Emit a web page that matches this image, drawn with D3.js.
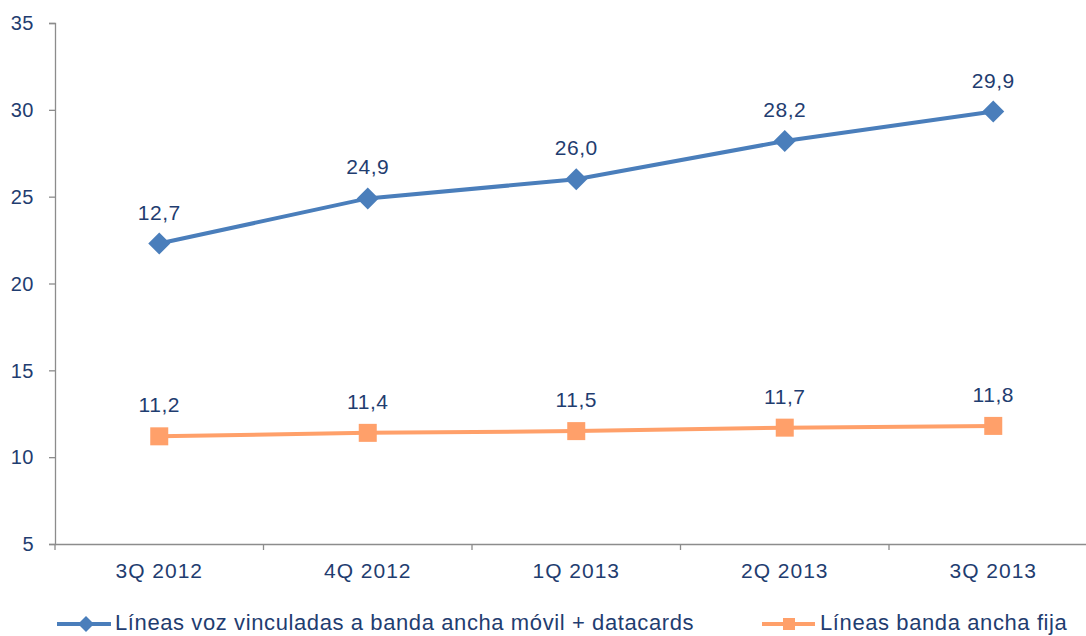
<!DOCTYPE html>
<html>
<head>
<meta charset="utf-8">
<script src="https://cdn.jsdelivr.net/npm/d3@7"></script>
<style>
  body { margin: 0; background: #fff; overflow: hidden; }
  text { font-family: "Liberation Sans", Arial, sans-serif; fill: #1f3d70; }
</style>
</head>
<body>
<script>
// chart data
const categories = ['3Q 2012', '4Q 2012', '1Q 2013', '2Q 2013', '3Q 2013'];
const mobileValues = [22.3, 24.9, 26.0, 28.2, 29.9];
const mobileLabels = ['12,7', '24,9', '26,0', '28,2', '29,9'];
const fixedValues = [11.2, 11.4, 11.5, 11.7, 11.8];
const fixedLabels = ['11,2', '11,4', '11,5', '11,7', '11,8'];
const yTicks = [5, 10, 15, 20, 25, 30, 35];
const seriesNames = ['Líneas voz vinculadas a banda ancha móvil + datacards', 'Líneas banda ancha fija'];

const width = 1086, height = 636;
const margin = {top: 23, right: 0, bottom: 92, left: 55};

const svg = d3.select('body').append('svg')
    .attr('width', width)
    .attr('height', height);

const xScale = d3.scaleBand()
    .domain(categories)
    .range([margin.left, margin.left + 5 * 208.5]);

const yScale = d3.scaleLinear()
    .domain([5, 35])
    .range([height - margin.bottom, margin.top]);

// y axis
const yAxis = svg.append('g')
    .attr('transform', 'translate(' + margin.left + ',0)')
    .call(d3.axisLeft(yScale).tickValues(yTicks).tickSize(6).tickPadding(15));
yAxis.selectAll('text')
    .style('font-size', '20px')
    .style('letter-spacing', '0.5px')
    .attr('dy', '0.34em');

// x axis
const xAxis = svg.append('g')
    .attr('transform', 'translate(0,' + (height - margin.bottom) + ')')
    .call(d3.axisBottom(xScale).tickSize(0).tickPadding(19));
xAxis.selectAll('text')
    .style('font-size', '21px')
    .style('letter-spacing', '1px');
// category boundary ticks
xAxis.selectAll('line.sep')
    .data(d3.range(categories.length + 1))
    .enter().append('line')
    .attr('class', 'sep')
    .attr('x1', (i) => margin.left + i * xScale.step())
    .attr('x2', (i) => margin.left + i * xScale.step())
    .attr('y1', 0).attr('y2', 6);

svg.selectAll('.domain, .tick line, line.sep')
    .attr('stroke', '#8c8c8c').attr('stroke-width', 1.3);

function cx(i) { return xScale(categories[i]) + xScale.bandwidth() / 2; }

const line = d3.line()
    .x((d, i) => cx(i))
    .y((d) => yScale(d));

const blue = '#4a7ebb';
const orange = '#ffa06a';

function diamond(g, x, y, r, color) {
    g.append('path')
        .attr('d', 'M' + x + ',' + (y - r) + 'L' + (x + r) + ',' + y + 'L' + x + ',' + (y + r) + 'L' + (x - r) + ',' + y + 'Z')
        .attr('fill', color);
}
function square(g, x, y, s, color) {
    g.append('rect')
        .attr('x', x - s / 2).attr('y', y - s / 2)
        .attr('width', s).attr('height', s)
        .attr('fill', color);
}

// fixed broadband series
svg.append('path')
    .datum(fixedValues)
    .attr('d', line)
    .attr('fill', 'none')
    .attr('stroke', orange)
    .attr('stroke-width', 4);
fixedValues.forEach((v, i) => square(svg, cx(i), yScale(v), 18, orange));
svg.selectAll('text.flabel')
    .data(fixedValues)
    .enter().append('text')
    .attr('class', 'flabel')
    .attr('x', (d, i) => cx(i))
    .attr('y', (d) => yScale(d) - 24)
    .attr('text-anchor', 'middle')
    .style('font-size', '21px')
    .style('letter-spacing', '0.5px')
    .text((d, i) => fixedLabels[i]);

// mobile series
svg.append('path')
    .datum(mobileValues)
    .attr('d', line)
    .attr('fill', 'none')
    .attr('stroke', blue)
    .attr('stroke-width', 4);
mobileValues.forEach((v, i) => diamond(svg, cx(i), yScale(v), 11, blue));
svg.selectAll('text.mlabel')
    .data(mobileValues)
    .enter().append('text')
    .attr('class', 'mlabel')
    .attr('x', (d, i) => cx(i))
    .attr('y', (d) => yScale(d) - 24)
    .attr('text-anchor', 'middle')
    .style('font-size', '21px')
    .style('letter-spacing', '0.5px')
    .text((d, i) => mobileLabels[i]);

// legend
const legend = svg.append('g');
const legY = 624;
legend.append('line')
    .attr('x1', 57).attr('x2', 111).attr('y1', legY).attr('y2', legY)
    .attr('stroke', blue).attr('stroke-width', 4);
diamond(legend, 86, legY, 8, blue);
legend.append('text')
    .attr('x', 115).attr('y', 630)
    .style('font-size', '22px')
    .style('letter-spacing', '0.6px')
    .text(seriesNames[0]);

legend.append('line')
    .attr('x1', 762).attr('x2', 815).attr('y1', legY).attr('y2', legY)
    .attr('stroke', orange).attr('stroke-width', 4);
square(legend, 789, legY, 12, orange);
legend.append('text')
    .attr('x', 820).attr('y', 630)
    .style('font-size', '22px')
    .style('letter-spacing', '0.6px')
    .text(seriesNames[1]);
</script>
</body>
</html>
